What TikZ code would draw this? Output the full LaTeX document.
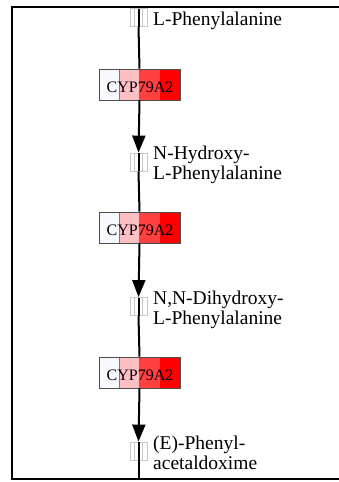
\documentclass[tikz,border=0pt]{standalone}
\usepackage{fontspec}
\setmainfont{Liberation Serif}
\usetikzlibrary{arrows.meta}
\definecolor{cA}{HTML}{F8F8FF}
\definecolor{cB}{HTML}{FFC0C4}
\definecolor{cC}{HTML}{FF4040}
\definecolor{cD}{HTML}{FF0000}
\definecolor{cgray}{HTML}{C8C8C8}
\tikzset{
  cpd/.style={draw=cgray, line width=0.8pt, minimum width=17pt, minimum height=18pt, inner sep=0pt, fill=white},
  enz/.style={draw=black!70, line width=0.8pt, minimum width=81pt, minimum height=31pt, inner sep=0pt},
  lbl/.style={font=\fontsize{19.5}{19.5}\selectfont, anchor=base west, inner sep=0pt, align=left},
  enzlbl/.style={font=\fontsize{16}{16}\selectfont, inner sep=0pt},
  link/.style={line width=2pt, black},
  arr/.style={link, -{Triangle[width=13pt,length=17pt]}},
  frame/.style={line width=2pt, black}
}
\newcommand{\enzcells}[1]{%
  \fill[cA] (99,#1) rectangle (119,#1+31);
  \fill[cB] (119,#1) rectangle (139,#1+31);
  \fill[cC] (139,#1) rectangle (159,#1+31);
  \fill[cD] (159,#1) rectangle (180,#1+31);
  \draw[cgray!60!black, line width=0.4pt] (119,#1) -- (119,#1+31) (139,#1) -- (139,#1+31) (159,#1) -- (159,#1+31);
}
\newcommand{\cpdstripes}[1]{%
  \draw[cgray, line width=0.6pt] (134.25,#1-9) -- (134.25,#1+9) (142.75,#1-9) -- (142.75,#1+9);
}
\begin{document}
\begin{tikzpicture}[x=1pt,y=-1pt]
\useasboundingbox (0,0) rectangle (339,482);
\fill[white] (0,0) rectangle (339,482);
% frame (open on the right)
\draw[frame] (339,6.5) -- (11.5,6.5) -- (11.5,479) -- (339,479);
\coordinate (top) at (138.5,6.5);
\coordinate (bot) at (138.5,479);
% compounds
\node[cpd] (c1) at (138.5,17.5) {};
\node[cpd] (c2) at (138.5,162) {};
\node[cpd] (c3) at (138.5,306.5) {};
\node[cpd] (c4) at (138.5,451) {};
% enzymes
\node[enz] (e1) at (139.5,84.5) {};
\node[enz] (e2) at (139.5,227.5) {};
\node[enz] (e3) at (139.5,372.5) {};
\enzcells{69}
\enzcells{212}
\enzcells{357}
\node[enz] at (e1) {};
\node[enz] at (e2) {};
\node[enz] at (e3) {};
\node[enzlbl] at (140,87) {CYP79A2};
\node[enzlbl] at (140,230) {CYP79A2};
\node[enzlbl] at (140,375) {CYP79A2};
% connectors
\draw[link] (top) -- (c1.north);
\draw[link] (c1.south) -- (e1.north);
\draw[arr] (e1.south) -- (c2.north);
\draw[link] (c2.south) -- (e2.north);
\draw[arr] (e2.south) -- (c3.north);
\draw[link] (c3.south) -- (e3.north);
\draw[arr] (e3.south) -- (c4.north);
\draw[link] (c4.south) -- (bot);
% stripes and line through compound boxes
\foreach \y in {17.5,162,306.5,451}{
  \cpdstripes{\y}
  \draw[link] (138.5,\y-9) -- (138.5,\y+9);
}
% labels (base = last line)
\node[lbl] (l1) at (153,25) {L-Phenylalanine};
\node[lbl] (l2) at (153,179) {N-Hydroxy-\\L-Phenylalanine};
\node[lbl] (l3) at (153,324) {N,N-Dihydroxy-\\L-Phenylalanine};
\node[lbl] (l4) at (153,469) {(E)-Phenyl-\\acetaldoxime};
\end{tikzpicture}
\end{document}
